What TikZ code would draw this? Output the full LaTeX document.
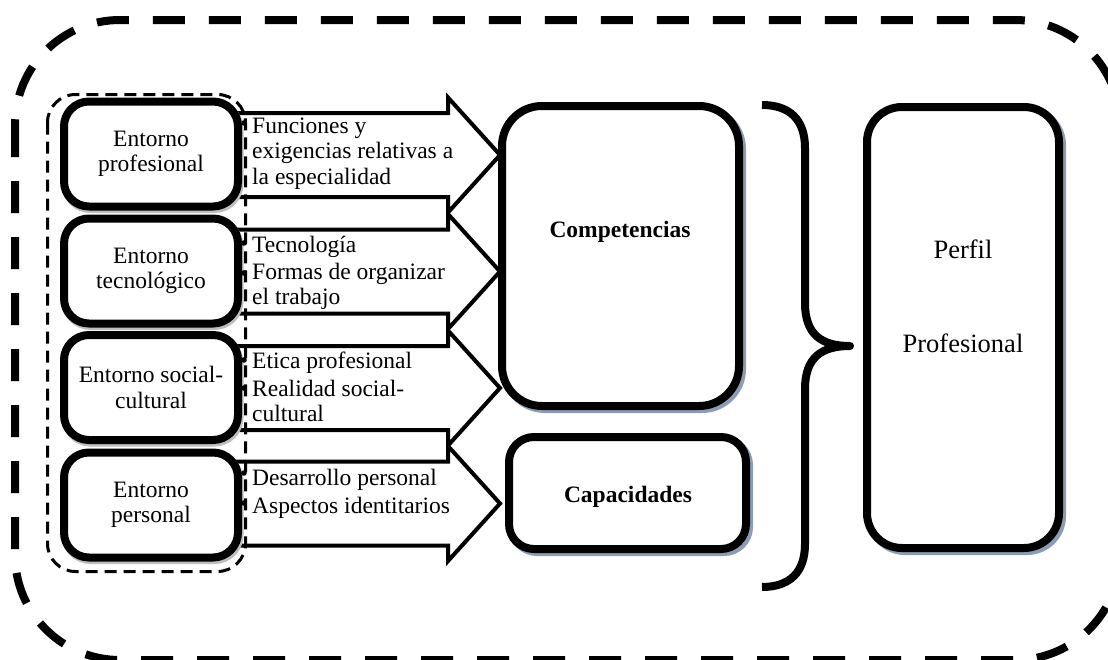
\documentclass[tikz,border=0pt]{standalone}
\usepackage{fontspec}
\setmainfont{Liberation Serif}
\usetikzlibrary{calc}
\definecolor{shadecol}{RGB}{140,156,178}
\definecolor{softgray}{RGB}{190,190,190}
\begin{document}
\begin{tikzpicture}[x=1pt,y=-1pt,
  txt/.style={font=\fontsize{23.5}{25.5}\selectfont, inner sep=0pt, align=left},
  bigtxt/.style={font=\fontsize{26.5}{28}\selectfont, inner sep=0pt},
  boldtxt/.style={font=\fontsize{23.5}{25.5}\selectfont\bfseries, inner sep=0pt},
  entbox/.style={draw, line width=8pt, fill=white, rounded corners=25pt,
    minimum width=174pt, minimum height=105pt, inner sep=0pt, align=center,
    font=\fontsize{23.5}{25.5}\selectfont,
    preaction={draw=softgray, line width=8pt, transform canvas={shift={(1.5pt,-2.5pt)}}}},
  mainbox/.style={draw, line width=8pt, fill=white, inner sep=0pt,
    preaction={draw=shadecol, line width=8pt, transform canvas={shift={(3pt,-3pt)}}}},
  blockarrow/.style={draw, line width=4pt, fill=white, line join=miter},
  framedash/.style={line width=8pt, dash pattern=on 32pt off 24pt},
  groupdash/.style={line width=3pt, dash pattern=on 12pt off 7pt},
  bulletdot/.style={fill=black}]
\useasboundingbox (0,0) rectangle (1108,659);
\clip (0,0) rectangle (1108,659);
\fill[white] (0,0) rectangle (1108,659);

% outer dashed frame
\draw[framedash, rounded corners=105pt] (15,20) rectangle (1120,660);

% block arrows from the four environments
\foreach \cy in {155,271.5,388,503.5}{
  \draw[blockarrow] (200,{\cy-42}) -- (448,{\cy-42}) -- (448,{\cy-57.5}) -- (500,\cy)
    -- (448,{\cy+57.5}) -- (448,{\cy+42}) -- (200,{\cy+42});
}

% environment boxes
\node[entbox] (e1) at (151,154) {Entorno\\profesional};
\node[entbox] (e2) at (151,271) {Entorno\\tecnológico};
\node[entbox] (e3) at (151,387.5) {Entorno social-\\cultural};
\node[entbox] (e4) at (151,505) {Entorno\\personal};

% dashed group around the environments
\draw[groupdash, rounded corners=28pt] (47.5,94.5) rectangle (245.5,571.5);

% bullets of the arrow texts
\foreach \by in {123,243,273,360,388,473,503}{
  \fill[bulletdot] (244,\by) circle (2.8);
}

% arrow texts (base anchor sits on the last line)
\node[txt, anchor=base west] (t1) at (252,184) {Funciones y\\exigencias relativas a\\la especialidad};
\node[txt, anchor=base west] (t2a) at (252,252.5) {Tecnología};
\node[txt, anchor=base west] (t2b) at (252,304.5) {Formas de organizar\\el trabajo};
\node[txt, anchor=base west] (t3a) at (252,368) {Etica profesional};
\node[txt, anchor=base west] (t3b) at (252,421.5) {Realidad social-\\cultural};
\node[txt, anchor=base west] (t4a) at (252,485) {Desarrollo personal};
\node[txt, anchor=base west] (t4b) at (252,513) {Aspectos identitarios};

% competencias and capacidades
\node[mainbox, rounded corners=40pt, minimum width=237pt, minimum height=300pt] (comp) at (620.5,256) {};
\node[boldtxt, anchor=base] (comptxt) at (620,237) {Competencias};
\node[mainbox, rounded corners=25pt, minimum width=237pt, minimum height=112pt] (capa) at (627.5,493) {};
\node[boldtxt, anchor=base] (capatxt) at (628,502) {Capacidades};

% brace
\draw[line width=8pt, line join=round]
  (762,105) .. controls (790,105) and (805,120) .. (805,148)
  -- (805,303) .. controls (805,335) and (822,346) .. (850,346)
  .. controls (822,346) and (805,357) .. (805,389)
  -- (805,544) .. controls (805,572) and (790,587) .. (762,587);

% profile box
\node[mainbox, rounded corners=35pt, minimum width=192pt, minimum height=441pt] (perfil) at (963,327.5) {};
\node[bigtxt, anchor=base] (perfil1) at (963,258) {Perfil};
\node[bigtxt, anchor=base] (perfil2) at (963,352) {Profesional};
\end{tikzpicture}
\end{document}
